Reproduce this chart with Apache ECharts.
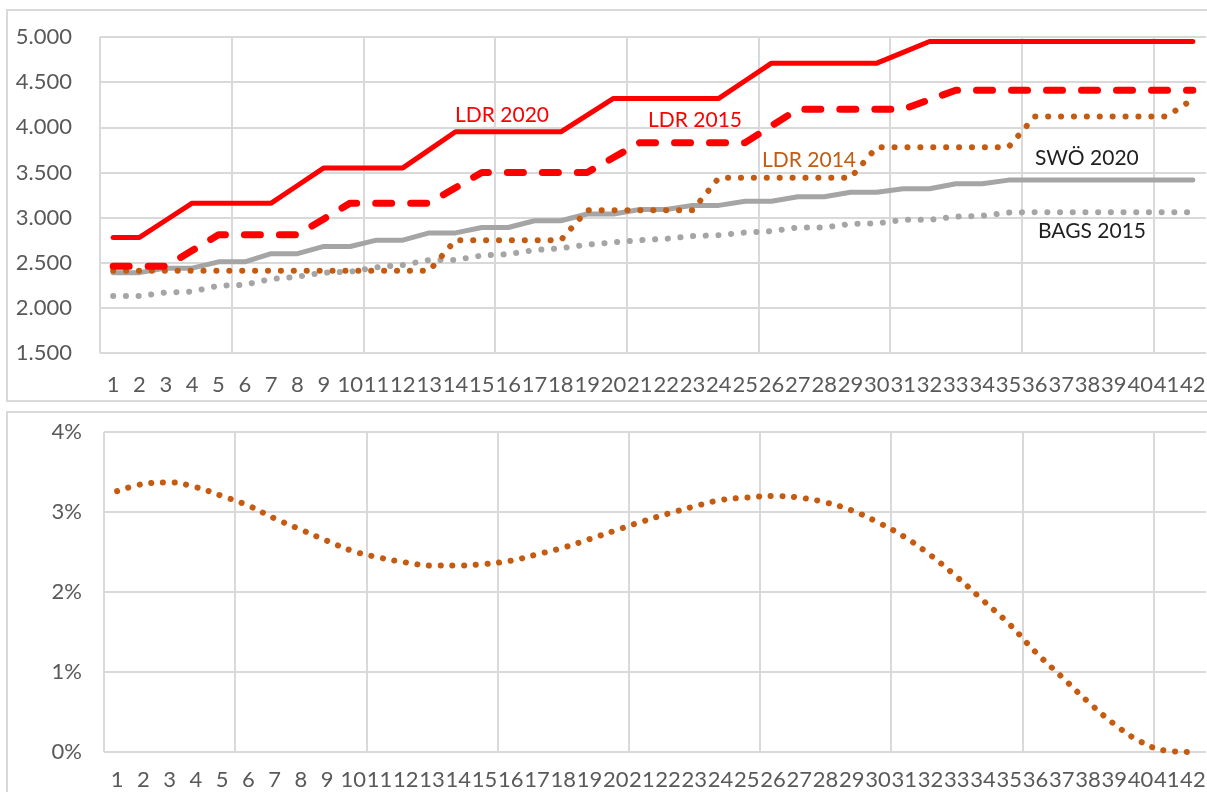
<!DOCTYPE html>
<html>
<head>
<meta charset="utf-8">
<script src="https://cdn.jsdelivr.net/npm/echarts@6/dist/echarts.min.js"></script>
<style>
  html, body { margin: 0; padding: 0; background: #fff; }
  #main { width: 1207px; height: 792px; }
</style>
</head>
<body>
<div id="main"></div>
<script>
// 横轴类目 1..42
const categories = ['1', '2', '3', '4', '5', '6', '7', '8', '9', '10',
  '11', '12', '13', '14', '15', '16', '17', '18', '19', '20',
  '21', '22', '23', '24', '25', '26', '27', '28', '29', '30',
  '31', '32', '33', '34', '35', '36', '37', '38', '39', '40', '41', '42']

// 上图 各条线
const ldr2020 = [2780, 2780, 2970, 3160, 3160, 3160, 3160, 3355, 3550, 3550,
  3550, 3550, 3750, 3950, 3950, 3950, 3950, 3950, 4135, 4320,
  4320, 4320, 4320, 4320, 4515, 4710, 4710, 4710, 4710, 4710,
  4830, 4950, 4950, 4950, 4950, 4950, 4950, 4950, 4950, 4950, 4950, 4950]
const ldr2015 = [2460, 2460, 2460, 2635, 2810, 2810, 2810, 2810, 2985, 3160,
  3160, 3160, 3160, 3330, 3500, 3500, 3500, 3500, 3500, 3665,
  3830, 3830, 3830, 3830, 3830, 4015, 4200, 4200, 4200, 4200,
  4200, 4305, 4410, 4410, 4410, 4410, 4410, 4410, 4410, 4410, 4410, 4410]
const ldr2014 = [2410, 2410, 2410, 2410, 2410, 2410, 2410, 2410, 2410, 2410,
  2410, 2410, 2410, 2750, 2750, 2750, 2750, 2750, 3080, 3080,
  3080, 3080, 3080, 3440, 3440, 3440, 3440, 3440, 3440, 3780,
  3780, 3780, 3780, 3780, 3780, 4120, 4120, 4120, 4120, 4120, 4120, 4310]
const swo2020 = [2390, 2390, 2440, 2440, 2510, 2510, 2600, 2600, 2680, 2680,
  2750, 2750, 2830, 2830, 2890, 2890, 2965, 2965, 3040, 3040,
  3090, 3090, 3135, 3135, 3180, 3180, 3230, 3230, 3280, 3280,
  3320, 3320, 3375, 3375, 3415, 3415, 3415, 3415, 3415, 3415, 3415, 3415]
const bags2015 = [2130, 2130, 2170, 2180, 2245, 2255, 2320, 2345, 2390, 2400,
  2450, 2475, 2530, 2530, 2580, 2595, 2640, 2660, 2700, 2725,
  2750, 2765, 2795, 2805, 2835, 2850, 2890, 2890, 2930, 2935,
  2975, 2975, 3010, 3020, 3055, 3060, 3060, 3060, 3060, 3060, 3060, 3060]

// 下图 百分比
const rate = [3.26, 3.35, 3.37, 3.31, 3.20, 3.08, 2.92, 2.78, 2.64, 2.51,
  2.43, 2.37, 2.33, 2.33, 2.35, 2.39, 2.47, 2.555, 2.66, 2.77,
  2.88, 2.98, 3.07, 3.15, 3.18, 3.20, 3.18, 3.12, 3.02, 2.87,
  2.69, 2.46, 2.19, 1.895, 1.60, 1.25, 0.94, 0.63, 0.35, 0.13, 0.015, 0.0]

const FONT = 'Lato, "Noto Sans", sans-serif'
const gridColor = '#d9d9d9'
const labelColor = '#595959'

// 5000 -> 5.000
function fmtThousand(v) {
  const k = Math.floor(v / 1000)
  const r = String(v % 1000).padStart(3, '0')
  return k + '.' + r
}

function catAxis(gridIndex, margin) {
  return {
    type: 'category',
    gridIndex: gridIndex,
    data: categories,
    boundaryGap: true,
    axisLine: { show: false },
    axisTick: { show: false },
    axisLabel: {
      interval: 0,
      margin: margin,
      color: labelColor,
      fontSize: 22,
      fontFamily: FONT
    },
    // 每5个类目一条竖线
    splitLine: {
      show: true,
      interval: (index) => index % 5 === 0,
      showMaxLine: false,
      lineStyle: { color: gridColor, width: 2 }
    }
  }
}

function dotted(gap) {
  return [0.1, gap]
}

const dom = document.querySelector('#main')
const myChart = echarts.init(dom)

const option = {
  animation: false,
  backgroundColor: '#fff',
  grid: [
    { left: 100, right: 1, top: 37, height: 316, outerBoundsMode: 'none', containLabel: false },
    { left: 104, right: 1, top: 432, height: 320, outerBoundsMode: 'none', containLabel: false }
  ],
  xAxis: [catAxis(0, 21), catAxis(1, 17)],
  yAxis: [
    {
      type: 'value',
      gridIndex: 0,
      min: 1500,
      max: 5000,
      interval: 500,
      axisLine: { show: false },
      axisTick: { show: false },
      axisLabel: {
        margin: 28,
        color: labelColor,
        fontSize: 22,
        fontFamily: FONT,
        formatter: fmtThousand
      },
      splitLine: { lineStyle: { color: gridColor, width: 2 } }
    },
    {
      type: 'value',
      gridIndex: 1,
      min: 0,
      max: 4,
      interval: 1,
      axisLine: { show: false },
      axisTick: { show: false },
      axisLabel: {
        margin: 22,
        color: labelColor,
        fontSize: 22,
        fontFamily: FONT,
        formatter: '{value}%'
      },
      splitLine: { lineStyle: { color: gridColor, width: 2 } }
    }
  ],
  series: [
    {
      name: 'BAGS 2015',
      type: 'line',
      data: bags2015,
      showSymbol: false,
      lineStyle: { color: '#a5a5a5', width: 6, type: dotted(12.6), cap: 'round' }
    },
    {
      name: 'SWÖ 2020',
      type: 'line',
      data: swo2020,
      showSymbol: false,
      lineStyle: { color: '#a5a5a5', width: 5, cap: 'round', join: 'round' }
    },
    {
      name: 'LDR 2014',
      type: 'line',
      data: ldr2014,
      showSymbol: false,
      lineStyle: { color: '#c55a11', width: 6, type: dotted(12.8), cap: 'round' }
    },
    {
      name: 'LDR 2015',
      type: 'line',
      data: ldr2015,
      showSymbol: false,
      lineStyle: { color: '#ff0000', width: 7, type: [16, 19], cap: 'round', join: 'round' }
    },
    {
      name: 'LDR 2020',
      type: 'line',
      data: ldr2020,
      showSymbol: false,
      lineStyle: { color: '#ff0000', width: 5, cap: 'round', join: 'round' }
    },
    {
      name: 'Rate',
      type: 'line',
      xAxisIndex: 1,
      yAxisIndex: 1,
      data: rate,
      showSymbol: false,
      smooth: 0.4,
      lineStyle: { color: '#c55a11', width: 6, type: dotted(11.6), cap: 'round' }
    }
  ],
  // 边框 + 文字标注
  graphic: [
    {
      type: 'rect', silent: true, z: -1,
      shape: { x: 7, y: 10, width: 1220, height: 391 },
      style: { fill: 'none', stroke: gridColor, lineWidth: 2 }
    },
    {
      type: 'rect', silent: true, z: -1,
      shape: { x: 7, y: 412, width: 1220, height: 420 },
      style: { fill: 'none', stroke: gridColor, lineWidth: 2 }
    },
    {
      type: 'text', x: 455, y: 115,
      style: { text: 'LDR 2020', fill: '#ff0000', font: '21px ' + FONT, verticalAlign: 'middle' }
    },
    {
      type: 'text', x: 648, y: 120,
      style: { text: 'LDR 2015', fill: '#ff0000', font: '21px ' + FONT, verticalAlign: 'middle' }
    },
    {
      type: 'text', x: 762, y: 160,
      style: { text: 'LDR 2014', fill: '#c55a11', font: '21px ' + FONT, verticalAlign: 'middle' }
    },
    {
      type: 'text', x: 1035, y: 158,
      style: { text: 'SWÖ 2020', fill: '#1f1f1f', font: '21px ' + FONT, verticalAlign: 'middle' }
    },
    {
      type: 'text', x: 1038, y: 231,
      style: { text: 'BAGS 2015', fill: '#1f1f1f', font: '21px ' + FONT, verticalAlign: 'middle' }
    }
  ]
}

myChart.setOption(option)
</script>
</body>
</html>
